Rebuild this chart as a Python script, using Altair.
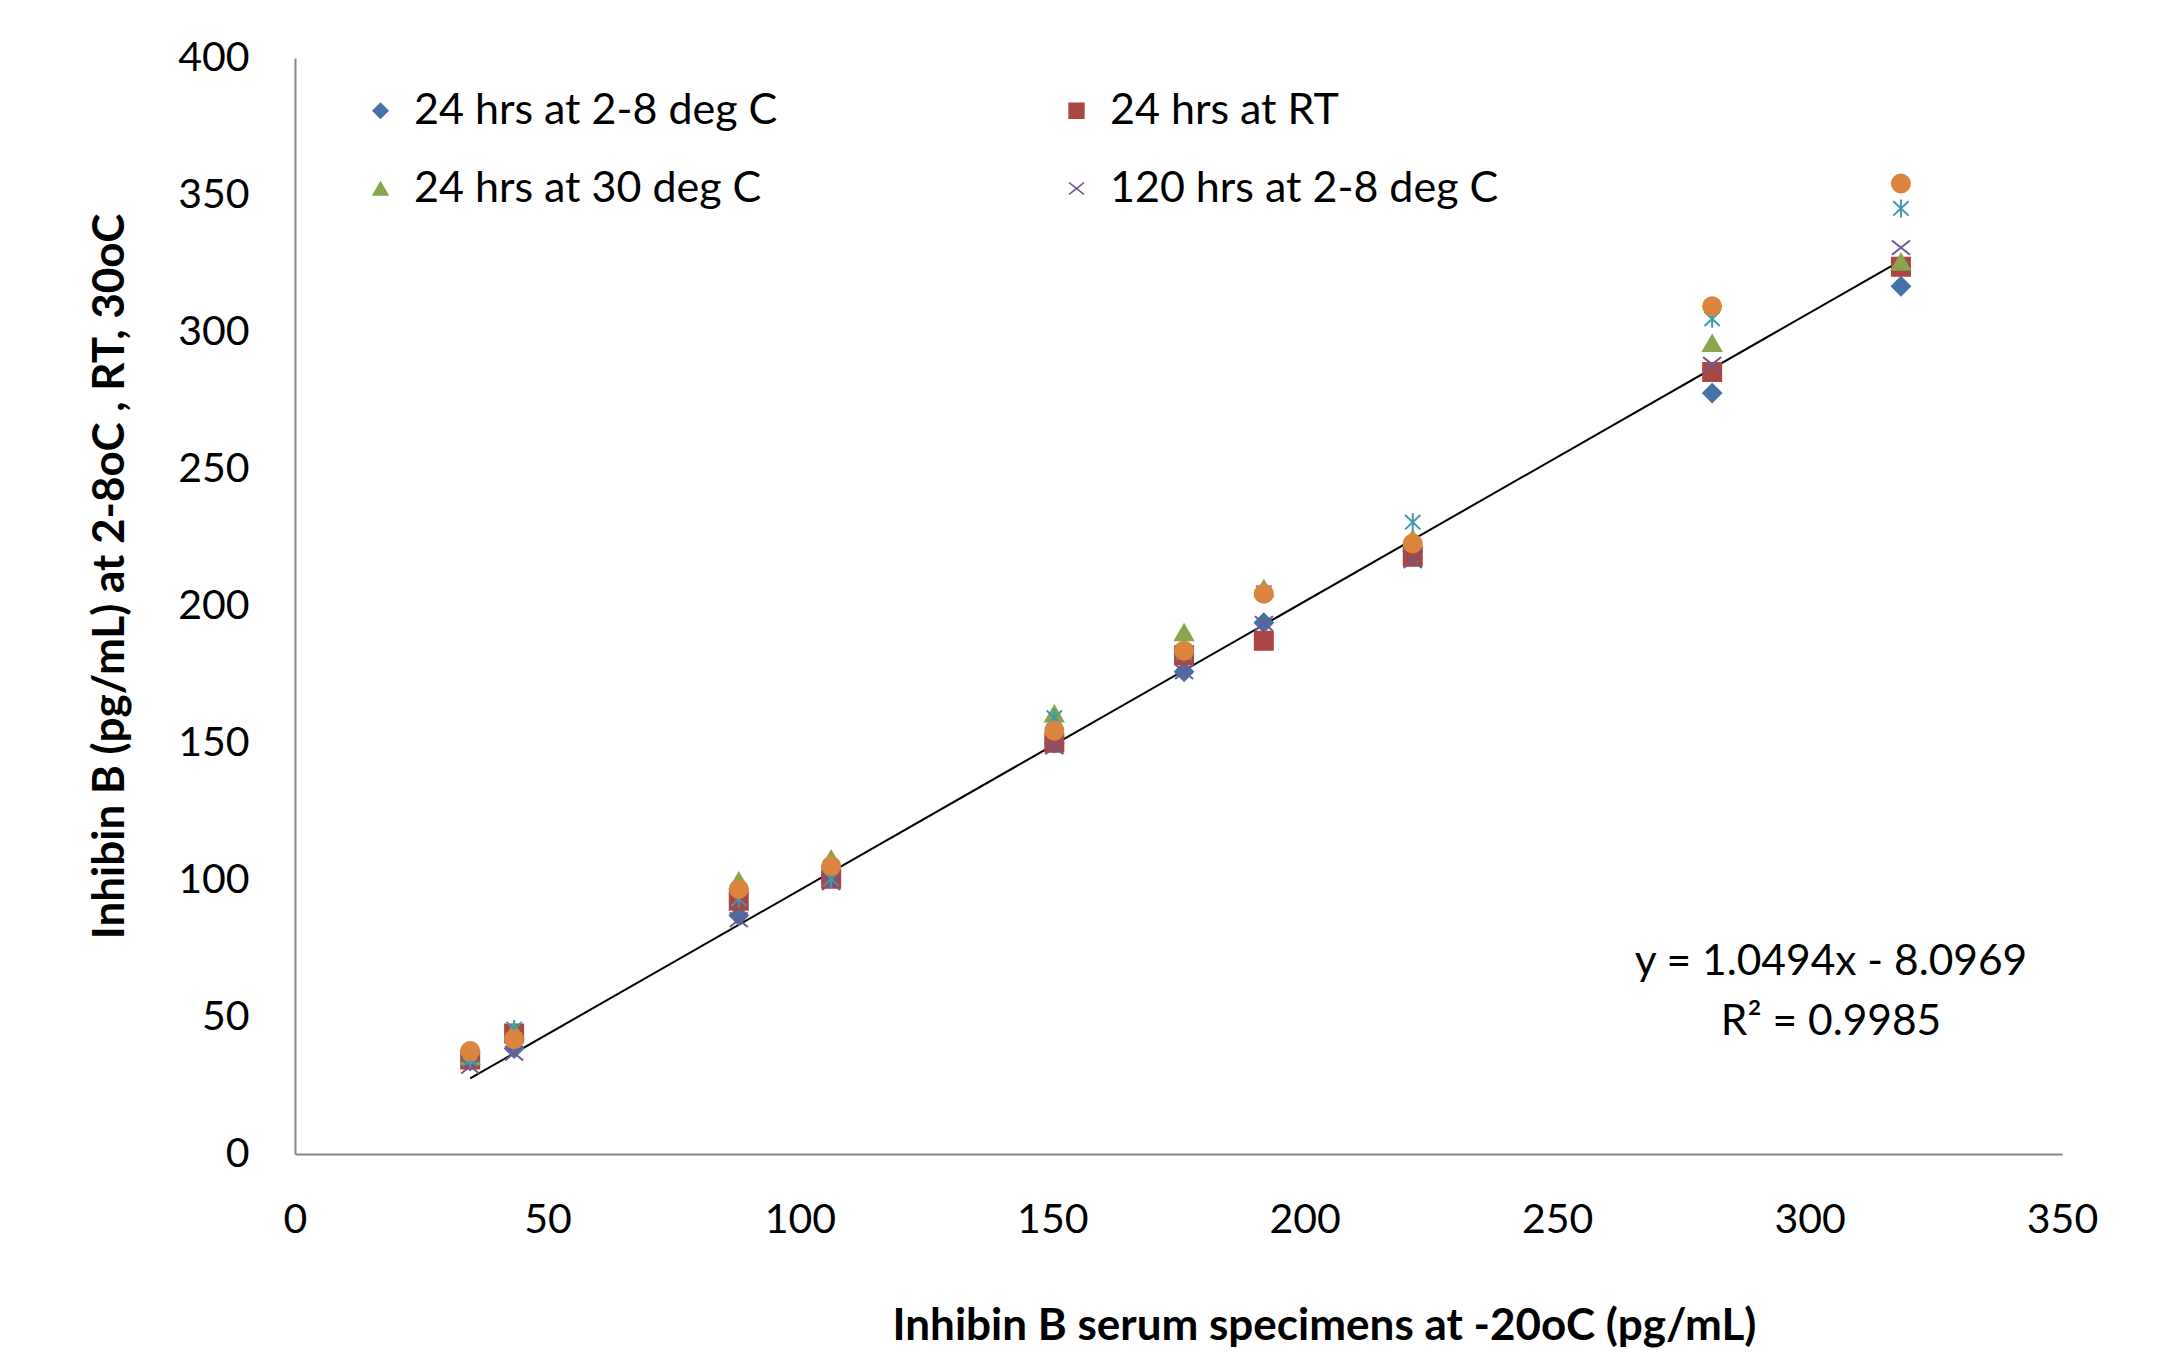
import altair as alt
import pandas as pd

# ---- data ----
x_vals = [34.7, 43.4, 87.9, 106.2, 150.4, 176.1, 191.9, 221.4, 280.7, 318.1]
series_names = [
    "24 hrs at 2-8 deg C",
    "24 hrs at RT",
    "24 hrs at 30 deg C",
    "120 hrs at 2-8 deg C",
    "120 hrs at RT",
    "120 hrs at 30 deg C",
]
s_diamond = [33.9, 38.5, 87.0, 102.0, 150.0, 176.0, 193.9, 220.0, 277.7, 316.7]
s_square = [34.5, 44.0, 92.4, 100.5, 150.1, 182.0, 187.3, 218.0, 285.4, 323.8]
s_triangle = [35.7, 44.9, 99.7, 107.7, 160.7, 190.3, 206.4, 224.6, 295.9, 325.6]
s_cross = [32.0, 36.8, 85.5, 99.0, 148.5, 176.0, 193.6, 216.5, 288.2, 330.8]
s_star = [34.6, 45.6, 93.1, 100.4, 159.2, 183.0, 204.9, 230.6, 304.8, 345.1]
s_circle = [37.6, 41.9, 96.7, 105.1, 154.5, 183.7, 204.5, 222.8, 309.4, 354.2]
all_series = [s_diamond, s_square, s_triangle, s_cross, s_star, s_circle]
trend_series = "120 hrs at 2-8 deg C"

equation_lines = ["y = 1.0494x - 8.0969", "R² = 0.9985"]

colors = ["#4572A7", "#AA4643", "#89A54E", "#71588F", "#4198AF", "#DB843D"]
shapes = [
    "diamond",
    "square",
    "triangle-up",
    "M-1,-0.8L1,0.8M-1,0.8L1,-0.8",
    "M0,-1L0,1M-0.85,-0.8L0.85,0.8M-0.85,0.8L0.85,-0.8",
    "circle",
]

rows = []
for name, vals in zip(series_names, all_series):
    for xv, yv in zip(x_vals, vals):
        rows.append({"x": xv, "y": yv, "series": name})
df = pd.DataFrame(rows)

FONT = "Lato"

legend = alt.Legend(
    title=None,
    values=series_names[:4],
    columns=2,
    direction="horizontal",
    orient="none",
    legendX=64,
    legendY=31,
    labelFont=FONT,
    labelFontSize=43,
    labelColor="black",
    labelLimit=0,
    symbolSize=220,
    symbolStrokeWidth=1.5,
    labelOffset=12,
    columnPadding=277,
    rowPadding=34,
    padding=0,
)

color_scale = alt.Scale(domain=series_names, range=colors)
shape_scale = alt.Scale(domain=series_names, range=shapes)

x_enc = alt.X(
    "x:Q",
    scale=alt.Scale(domain=[0, 350], nice=False),
    axis=alt.Axis(
        values=list(range(0, 351, 50)),
        title="Inhibin B serum specimens at -20oC (pg/mL)",
        titleX=1029,
        titleY=172,
        titleBaseline="middle",
        titleAlign="center",
    ),
)
y_enc = alt.Y(
    "y:Q",
    scale=alt.Scale(domain=[0, 400], nice=False),
    axis=alt.Axis(
        values=list(range(0, 401, 50)),
        title="Inhibin B  (pg/mL) at 2-8oC , RT, 30oC",
        titleX=-185,
        titleY=518,
        titleAngle=-90,
        titleBaseline="middle",
        titleAlign="center",
    ),
)

points = alt.Chart(df).mark_point(
    filled=True, size=324, strokeWidth=2, opacity=1
).encode(
    x=x_enc,
    y=y_enc,
    color=alt.Color("series:N", scale=color_scale, legend=legend, sort=series_names),
    stroke=alt.Stroke("series:N", scale=color_scale, legend=legend, sort=series_names),
    shape=alt.Shape("series:N", scale=shape_scale, legend=legend, sort=series_names),
)

trend = (
    alt.Chart(df)
    .transform_filter(alt.datum.series == trend_series)
    .transform_regression("x", "y")
    .mark_line(color="black", strokeWidth=2)
    .encode(x="x:Q", y="y:Q")
)

eq = alt.Chart(pd.DataFrame({"t": [0]})).mark_text(
    font=FONT, fontSize=42.5, color="black", align="center", baseline="middle",
    lineHeight=60,
).encode(
    x=alt.value(1536),
    y=alt.value(904),
    text=alt.value(equation_lines),
)

chart = (
    alt.layer(trend, points, eq)
    .properties(
        width=1767,
        height=1096,
        autosize=alt.AutoSizeParams(type="none"),
        padding={"left": 295, "top": 58, "right": 100, "bottom": 200},
        background="white",
    )
    .configure_view(stroke=None)
    .configure_axis(
        grid=False,
        ticks=False,
        domainColor="#868686",
        domainWidth=2,
        labelFont=FONT,
        labelFontSize=41,
        labelColor="black",
        labelPadding=46,
        labelFlush=False,
        titleFont=FONT,
        titleFontSize=44,
        titleFontWeight="bold",
        titleColor="black",
    )
)

chart.save("out.html", embed_options={"renderer": "svg", "actions": False})
